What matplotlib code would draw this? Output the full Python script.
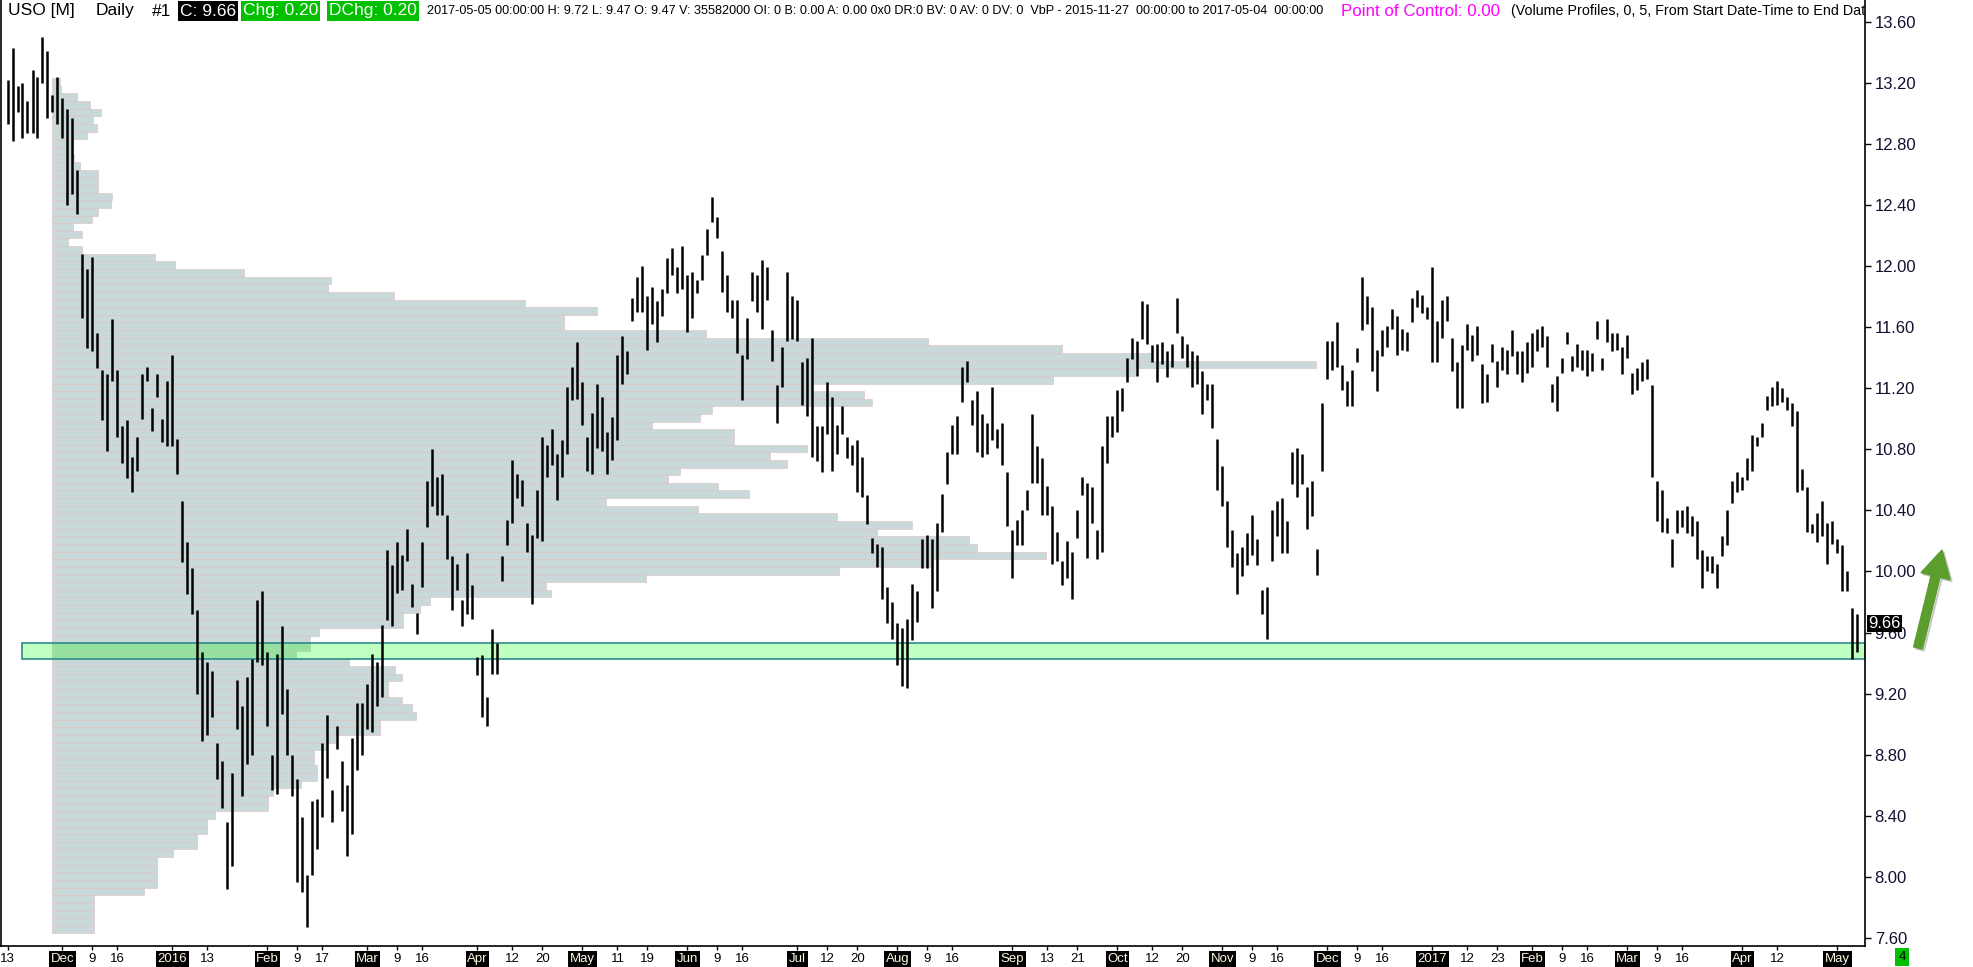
import numpy as np
import pandas as pd
import matplotlib
matplotlib.use('Agg')
import matplotlib.pyplot as plt
from matplotlib.patches import FancyArrow, Rectangle
from matplotlib.transforms import IdentityTransform

plt.rcParams['font.family'] = ['Liberation Sans', 'DejaVu Sans']

# daily bars USO, 2015-11-13 .. 2017-05-05
highs = [
    13.22, 13.43, 13.18, 13.20, 13.08, 13.28, 13.24, 13.50, 13.41, 13.12,
    13.24, 13.10, 13.03, 12.97, 12.63, 12.08, 11.98, 12.06, 11.56, 11.32,
    11.29, 11.65, 11.32, 10.95, 10.99, 10.75, 10.88, 11.29, 11.34, 11.07,
    11.29, 11.00, 11.25, 11.42, 10.87, 10.46, 10.19, 10.02, 9.75, 9.47,
    9.41, 9.35, 8.88, 8.76, 8.36, 8.68, 9.29, 9.12, 9.31, 9.43,
    9.81, 9.87, 9.47, 8.80, 9.46, 9.64, 9.23, 8.80, 8.64, 8.39,
    8.01, 8.50, 8.51, 8.88, 9.06, 8.57, 8.99, 8.76, 8.60, 8.91,
    9.14, 9.14, 9.26, 9.46, 9.41, 9.65, 10.14, 10.04, 10.19, 10.11,
    10.28, 9.92, 9.73, 10.19, 10.59, 10.80, 10.62, 10.64, 10.37, 10.10,
    10.05, 9.81, 10.12, 9.91, 9.44, 9.45, 9.18, 9.62, 9.53, 10.10,
    10.34, 10.73, 10.64, 10.60, 10.32, 10.24, 10.53, 10.88, 10.83, 10.93,
    10.77, 10.86, 11.21, 11.34, 11.50, 11.24, 10.88, 11.04, 11.23, 11.14,
    10.91, 11.01, 11.42, 11.54, 11.44, 11.79, 11.93, 12.00, 11.80, 11.86,
    11.77, 11.85, 12.05, 12.12, 11.99, 12.13, 11.94, 11.96, 11.91, 12.07,
    12.24, 12.45, 12.32, 12.10, 11.94, 11.78, 11.78, 11.42, 11.66, 11.96,
    11.94, 12.04, 11.99, 11.58, 11.22, 11.47, 11.96, 11.80, 11.78, 11.37,
    11.40, 11.53, 10.95, 10.95, 11.24, 11.14, 10.96, 11.08, 10.88, 10.83,
    10.86, 10.75, 10.50, 10.22, 10.18, 10.16, 9.90, 9.80, 9.66, 9.63,
    9.69, 9.92, 9.87, 10.21, 10.24, 10.21, 10.32, 10.51, 10.78, 10.96,
    11.02, 11.34, 11.38, 11.12, 11.18, 11.03, 10.97, 11.21, 10.93, 10.97,
    10.65, 10.27, 10.34, 10.40, 10.53, 11.03, 10.82, 10.74, 10.56, 10.43,
    10.26, 10.07, 10.20, 10.13, 10.40, 10.62, 10.58, 10.55, 10.27, 10.82,
    11.02, 11.02, 11.19, 11.20, 11.40, 11.53, 11.51, 11.77, 11.75, 11.48,
    11.49, 11.50, 11.44, 11.49, 11.79, 11.54, 11.49, 11.44, 11.42, 11.31,
    11.23, 11.23, 10.87, 10.69, 10.46, 10.27, 10.12, 10.16, 10.25, 10.37,
    10.21, 9.88, 9.90, 10.40, 10.46, 10.48, 10.33, 10.78, 10.81, 10.77,
    10.55, 10.59, 10.15, 11.10, 11.51, 11.51, 11.63, 11.35, 11.25, 11.32,
    11.46, 11.93, 11.80, 11.73, 11.45, 11.58, 11.61, 11.72, 11.67, 11.59,
    11.57, 11.79, 11.84, 11.81, 11.73, 11.99, 11.64, 11.78, 11.80, 11.53,
    11.37, 11.48, 11.62, 11.55, 11.61, 11.36, 11.29, 11.49, 11.38, 11.47,
    11.45, 11.58, 11.44, 11.44, 11.50, 11.56, 11.59, 11.61, 11.54, 11.23,
    11.28, 11.40, 11.57, 11.41, 11.49, 11.45, 11.45, 11.43, 11.64, 11.40,
    11.65, 11.56, 11.56, 11.47, 11.55, 11.30, 11.33, 11.37, 11.39, 11.22,
    10.59, 10.53, 10.35, 10.21, 10.40, 10.40, 10.43, 10.36, 10.33, 10.14,
    10.10, 10.10, 10.05, 10.23, 10.40, 10.59, 10.65, 10.62, 10.74, 10.89,
    10.88, 10.97, 11.15, 11.21, 11.25, 11.20, 11.14, 11.10, 11.05, 10.67,
    10.55, 10.31, 10.38, 10.46, 10.32, 10.33, 10.21, 10.17, 10.00, 9.76,
    9.72,
]
lows = [
    12.93, 12.82, 13.01, 12.84, 12.87, 12.87, 12.84, 13.20, 12.97, 13.01,
    12.93, 12.84, 12.40, 12.47, 12.34, 11.66, 11.46, 11.44, 11.33, 10.99,
    10.79, 11.25, 10.88, 10.71, 10.61, 10.52, 10.66, 11.00, 11.25, 10.92,
    11.14, 10.85, 10.82, 10.82, 10.64, 10.06, 9.85, 9.72, 9.20, 8.89,
    8.93, 9.05, 8.64, 8.45, 7.92, 8.07, 8.97, 8.53, 8.74, 8.80,
    9.41, 9.39, 8.99, 8.57, 8.54, 9.07, 8.80, 8.53, 7.97, 7.90,
    7.67, 8.01, 8.18, 8.39, 8.65, 8.36, 8.84, 8.43, 8.14, 8.28,
    8.70, 8.80, 8.97, 8.95, 9.12, 9.18, 9.68, 9.64, 9.86, 9.88,
    10.07, 9.77, 9.59, 9.90, 10.29, 10.43, 10.37, 10.37, 10.08, 9.75,
    9.88, 9.64, 9.72, 9.69, 9.32, 9.05, 8.99, 9.33, 9.33, 9.94,
    10.17, 10.32, 10.48, 10.43, 10.13, 9.79, 10.22, 10.20, 10.62, 10.70,
    10.47, 10.62, 10.77, 11.12, 11.13, 10.96, 10.66, 10.64, 10.81, 10.79,
    10.64, 10.73, 10.86, 11.23, 11.29, 11.64, 11.70, 11.70, 11.45, 11.62,
    11.50, 11.67, 11.82, 11.94, 11.82, 11.85, 11.57, 11.66, 11.82, 11.91,
    12.07, 12.29, 12.18, 11.83, 11.70, 11.66, 11.43, 11.12, 11.39, 11.77,
    11.70, 11.59, 11.78, 11.38, 10.97, 11.21, 11.51, 11.52, 11.51, 11.09,
    11.02, 10.75, 10.72, 10.65, 10.90, 10.66, 10.77, 10.90, 10.74, 10.70,
    10.52, 10.49, 10.31, 10.12, 10.03, 9.82, 9.66, 9.56, 9.39, 9.25,
    9.24, 9.55, 9.67, 10.02, 10.02, 9.76, 9.87, 10.26, 10.57, 10.77,
    10.77, 11.11, 11.24, 10.96, 10.78, 10.75, 10.77, 10.86, 10.81, 10.70,
    10.30, 9.96, 10.17, 10.17, 10.40, 10.58, 10.58, 10.37, 10.37, 10.05,
    10.07, 9.91, 9.96, 9.82, 10.22, 10.50, 10.09, 10.32, 10.08, 10.13,
    10.71, 10.88, 10.91, 11.05, 11.24, 11.39, 11.28, 11.52, 11.49, 11.37,
    11.24, 11.36, 11.27, 11.34, 11.56, 11.40, 11.34, 11.21, 11.23, 11.03,
    11.12, 10.94, 10.53, 10.43, 10.16, 10.03, 9.85, 9.97, 10.04, 10.11,
    10.04, 9.72, 9.56, 10.07, 10.23, 10.12, 10.12, 10.57, 10.49, 10.57,
    10.28, 10.36, 9.98, 10.66, 11.26, 11.32, 11.34, 11.19, 11.08, 11.08,
    11.37, 11.58, 11.62, 11.31, 11.18, 11.41, 11.47, 11.59, 11.42, 11.45,
    11.44, 11.63, 11.73, 11.69, 11.65, 11.37, 11.37, 11.53, 11.64, 11.31,
    11.07, 11.07, 11.45, 11.38, 11.42, 11.10, 11.11, 11.37, 11.21, 11.32,
    11.29, 11.41, 11.29, 11.24, 11.30, 11.34, 11.44, 11.47, 11.34, 11.11,
    11.05, 11.30, 11.49, 11.31, 11.34, 11.32, 11.28, 11.31, 11.52, 11.32,
    11.50, 11.44, 11.45, 11.29, 11.40, 11.16, 11.19, 11.25, 11.26, 10.62,
    10.33, 10.26, 10.25, 10.03, 10.25, 10.29, 10.25, 10.23, 10.08, 9.89,
    10.00, 9.99, 9.89, 10.10, 10.17, 10.45, 10.52, 10.53, 10.60, 10.66,
    10.82, 10.88, 11.06, 11.08, 11.09, 11.11, 11.06, 10.95, 10.52, 10.53,
    10.26, 10.25, 10.19, 10.23, 10.05, 10.18, 10.12, 9.87, 9.87, 9.43,
    9.47,
]

# volume by price, 0.05 bins, listed from top bin (13.18-13.23) down
vbp_top_bin = 13.18
vbp_bin = 0.05
vbp_volume = [
    8, 9, 25, 38, 49, 41, 45, 35, 21, 21,
    22, 28, 46, 46, 46, 60, 59, 46, 40, 21,
    30, 16, 30, 103, 123, 192, 279, 276, 342, 473,
    545, 512, 512, 654, 876, 1010, 1100, 1264, 1083, 1001,
    760, 812, 820, 660, 648, 600, 682, 682, 755, 718,
    735, 628, 616, 666, 697, 554, 646, 785, 860, 825,
    917, 925, 994, 878, 787, 594, 494, 499, 378, 368,
    351, 351, 267, 258, 258, 244, 297, 343, 350, 336,
    336, 350, 360, 364, 328, 328, 283, 274, 262, 262,
    265, 265, 249, 221, 216, 216, 163, 155, 155, 145,
    145, 121, 105, 105, 105, 105, 92, 42, 42, 42,
    42, 42,
]

zone_low, zone_high = 9.43, 9.53
last_close = 9.66

holidays = pd.to_datetime([
    '2015-11-26', '2015-12-25', '2016-01-01', '2016-01-18', '2016-02-15',
    '2016-03-25', '2016-05-30', '2016-07-04', '2016-09-05', '2016-11-24',
    '2016-12-26', '2017-01-02', '2017-01-16', '2017-02-20', '2017-04-14',
])
days = pd.bdate_range('2015-11-13', '2017-05-05')
days = days[~days.isin(holidays)]

tick_dates = [
    ('2015-11-13', '13'), ('2015-12-01', 'Dec'), ('2015-12-09', '9'), ('2015-12-16', '16'),
    ('2016-01-04', '2016'), ('2016-01-13', '13'), ('2016-02-01', 'Feb'), ('2016-02-09', '9'),
    ('2016-02-17', '17'), ('2016-03-01', 'Mar'), ('2016-03-09', '9'), ('2016-03-16', '16'),
    ('2016-04-01', 'Apr'), ('2016-04-12', '12'), ('2016-04-20', '20'), ('2016-05-02', 'May'),
    ('2016-05-11', '11'), ('2016-05-19', '19'), ('2016-06-01', 'Jun'), ('2016-06-09', '9'),
    ('2016-06-16', '16'), ('2016-07-01', 'Jul'), ('2016-07-12', '12'), ('2016-07-20', '20'),
    ('2016-08-01', 'Aug'), ('2016-08-09', '9'), ('2016-08-16', '16'), ('2016-09-01', 'Sep'),
    ('2016-09-13', '13'), ('2016-09-21', '21'), ('2016-10-03', 'Oct'), ('2016-10-12', '12'),
    ('2016-10-20', '20'), ('2016-11-01', 'Nov'), ('2016-11-09', '9'), ('2016-11-16', '16'),
    ('2016-12-01', 'Dec'), ('2016-12-09', '9'), ('2016-12-16', '16'), ('2017-01-03', '2017'),
    ('2017-01-12', '12'), ('2017-01-23', '23'), ('2017-02-01', 'Feb'), ('2017-02-09', '9'),
    ('2017-02-16', '16'), ('2017-03-01', 'Mar'), ('2017-03-09', '9'), ('2017-03-16', '16'),
    ('2017-04-03', 'Apr'), ('2017-04-12', '12'), ('2017-05-01', 'May'),
]

W, H = 1974, 967
fig = plt.figure(figsize=(W / 100, H / 100), dpi=100)
ax = fig.add_axes([1 / W, (H - 946) / H, 1864 / W, 946 / H])

n = min(len(highs), len(lows), len(days))
idx = np.arange(n)

# volume profile
levels = vbp_top_bin - vbp_bin * np.arange(len(vbp_volume))
ax.barh(levels, np.array(vbp_volume) / 5.0, height=vbp_bin, left=8.9, align='edge',
        color='#c9d8d8', edgecolor='#dcc6c6', linewidth=0.5, zorder=1)

# support zone
ax.add_patch(Rectangle((2.9, zone_low), 371.5 - 2.9, zone_high - zone_low,
                       facecolor=(0, 1, 0, 0.25), edgecolor='#2e8b8b', lw=1.2, zorder=2))

# price bars
ax.vlines(idx, lows[:n], highs[:n], color='black', lw=1.8, zorder=4)

ax.set_xlim(-1.3, 371.5)
ax.set_ylim(7.548, 13.741)

ax.spines['top'].set_visible(False)
for s in ['left', 'right', 'bottom']:
    ax.spines[s].set_linewidth(1.2)

ax.yaxis.tick_right()
yt = np.arange(7.6, 13.61, 0.4)
ax.set_yticks(yt)
ax.set_yticklabels(['%.2f' % v for v in yt])
ax.tick_params(axis='y', direction='out', length=4, width=1, pad=3,
               labelsize=12, labelcolor='#101030')

xt = [days.get_loc(pd.Timestamp(d)) for d, _ in tick_dates]
ax.set_xticks(xt)
ax.set_xticklabels([l for _, l in tick_dates])
ax.tick_params(axis='x', direction='out', length=3, width=1, pad=2, labelsize=9.5)
for lab in ax.get_xticklabels():
    if not lab.get_text().isdigit() or len(lab.get_text()) == 4:
        lab.set_color('#fff6e0')
        lab.set_bbox(dict(boxstyle='square,pad=0.12', fc='black', ec='none'))

# last price marker on the scale
ax.text(1.002, last_close, '%.2f' % last_close, transform=ax.get_yaxis_transform(),
        ha='left', va='center', fontsize=12, color='white', zorder=10, clip_on=False,
        bbox=dict(boxstyle='square,pad=0.08', fc='black', ec='none'))


def hx(X):
    return (X - 1) / 1864.0


hy = 1 - 11 / 946.0
hdr = dict(transform=ax.transAxes, va='center', ha='left', clip_on=True, zorder=10)
ax.text(hx(8), hy, 'USO [M]', color='black', fontsize=12.5, **hdr)
ax.text(hx(96), hy, 'Daily', color='black', fontsize=12.5, **hdr)
ax.text(hx(152), hy, '#1', color='black', fontsize=12.5, **hdr)
ax.text(hx(180), hy, 'C: 9.66', color='white', fontsize=12.5,
        bbox=dict(boxstyle='square,pad=0.12', fc='black', ec='none'), **hdr)
ax.text(hx(243), hy, 'Chg: 0.20', color='white', fontsize=12.5,
        bbox=dict(boxstyle='square,pad=0.12', fc='#00c000', ec='none'), **hdr)
ax.text(hx(329), hy, 'DChg: 0.20', color='white', fontsize=12.5,
        bbox=dict(boxstyle='square,pad=0.12', fc='#00c000', ec='none'), **hdr)
ax.text(hx(427), hy, '2017-05-05 00:00:00 H: 9.72 L: 9.47 O: 9.47 V: 35582000 OI: 0 B: 0.00 '
        'A: 0.00 0x0 DR:0 BV: 0 AV: 0 DV: 0  VbP - 2015-11-27  00:00:00 to 2017-05-04  00:00:00',
        color='black', fontsize=9.1, **hdr)
ax.text(hx(1341), hy, 'Point of Control: 0.00', color='#ff00ff', fontsize=12.2, **hdr)
ax.text(hx(1511), hy, '(Volume Profiles, 0, 5, From Start Date-Time to End Date-Time)',
        color='black', fontsize=10.3, **hdr)

# green bar count box
fig.text(1902 / W, (H - 957) / H, '4', ha='center', va='center', fontsize=9.5, color='black',
         bbox=dict(boxstyle='square,pad=0.25', fc='#00c000', ec='none'))

# green arrow
shadow = FancyArrow(1920, H - 650, 24, 98, width=9, head_width=30, head_length=27,
                    length_includes_head=True, color='#000000', alpha=0.15,
                    transform=IdentityTransform())
arrow = FancyArrow(1918, H - 648, 24, 98, width=9, head_width=30, head_length=27,
                   length_includes_head=True, color='#5c9e2e',
                   transform=IdentityTransform())
fig.add_artist(shadow)
fig.add_artist(arrow)

fig.savefig('out.png', dpi=100, facecolor='white')
